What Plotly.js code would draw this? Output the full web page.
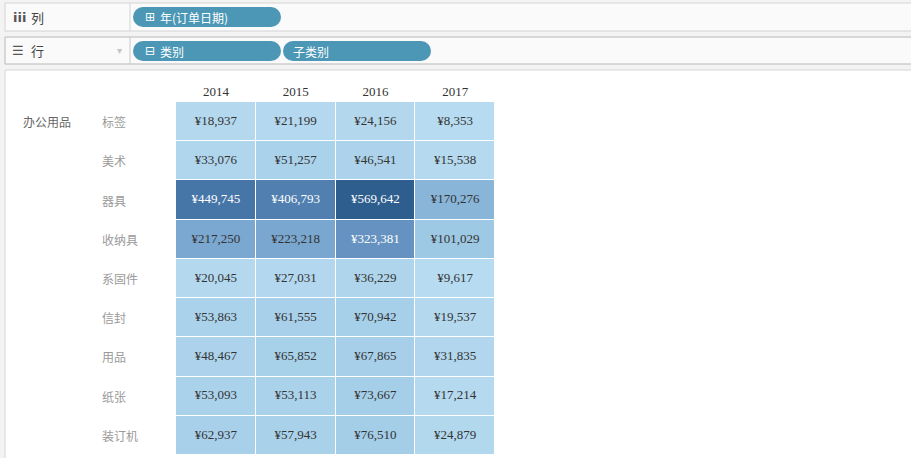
<!DOCTYPE html>
<html>
<head>
<meta charset="utf-8">
<script src="https://cdn.plot.ly/plotly-3.0.1.min.js"></script>
<style>html,body{margin:0;padding:0;background:#f3f3f3;}#chart{width:911px;height:458px;}</style>
</head>
<body>
<div id="chart"></div>
<script>
// ---- data ----
const years = ["2014", "2015", "2016", "2017"];
const category = "办公用品";
const subcats = ["标签", "美术", "器具", "收纳具", "系固件", "信封", "用品", "纸张", "装订机"];
const sales = [
  [18937, 21199, 24156, 8353],
  [33076, 51257, 46541, 15538],
  [449745, 406793, 569642, 170276],
  [217250, 223218, 323381, 101029],
  [20045, 27031, 36229, 9617],
  [53863, 61555, 70942, 19537],
  [48467, 65852, 67865, 31835],
  [53093, 53113, 73667, 17214],
  [62937, 57943, 76510, 24879]
];
const columnsShelf = "年(订单日期)";
const rowsShelf = ["类别", "子类别"];

// ---- geometry helpers (pixel -> paper) ----
const W = 911, H = 458;
const M = {l: 176, r: 416, t: 102, b: 3};
const PW = W - M.l - M.r, PH = H - M.t - M.b;
const px = x => (x - M.l) / PW;
const py = y => 1 - (y - M.t) / PH;

const shapes = [];
function rect(x0, y0, x1, y1, fill, line, lw) {
  shapes.push({type: 'rect', xref: 'paper', yref: 'paper', x0: px(x0), x1: px(x1), y0: py(y1), y1: py(y0),
    fillcolor: fill, line: {color: line || fill, width: lw === undefined ? 1 : lw}, layer: 'below'});
}
function vline(x, y0, y1, color) {
  shapes.push({type: 'line', xref: 'paper', yref: 'paper', x0: px(x), x1: px(x), y0: py(y1), y1: py(y0),
    line: {color: color, width: 1}, layer: 'below'});
}
function pill(x0, y0, x1, y1, color) {
  const r = (y1 - y0) / 2;
  rect(x0 + r, y0, x1 - r, y1, color, color, 0);
  shapes.push({type: 'circle', xref: 'paper', yref: 'paper', x0: px(x0), x1: px(x0 + 2 * r), y0: py(y1), y1: py(y0),
    fillcolor: color, line: {width: 0}, layer: 'below'});
  shapes.push({type: 'circle', xref: 'paper', yref: 'paper', x0: px(x1 - 2 * r), x1: px(x1), y0: py(y1), y1: py(y0),
    fillcolor: color, line: {width: 0}, layer: 'below'});
}

// shelves
rect(5, 3, 930, 31, '#fafafa', '#d4d4d4', 1);
vline(130, 3, 31, '#d4d4d4');
rect(5, 37, 930, 64, '#fafafa', '#b8b8b8', 1);
vline(130, 37, 64, '#c8c8c8');
// view area
rect(5, 70, 930, 480, '#ffffff', '#d6d6d6', 1);
// pills
const pillColor = '#4b97b5';
pill(133, 7, 281, 27, pillColor);
pill(133, 41, 281, 61, pillColor);
pill(283, 41, 431, 61, pillColor);

const sans = '"Noto Sans CJK SC", "Noto Sans", sans-serif';
const serif = '"Liberation Serif", "DejaVu Serif", serif';
const annotations = [];
function label(x, y, text, size, color, family) {
  annotations.push({xref: 'paper', yref: 'paper', x: px(x), y: py(y), xanchor: 'left', yanchor: 'middle',
    text: text, showarrow: false, font: {size: size, color: color, family: family || sans}});
}
label(11, 17, '<b>iii</b>', 13, '#555555', '"DejaVu Sans", sans-serif');
label(29, 17, '列', 13, '#444444');
label(10, 50, '☰', 13, '#555555', '"DejaVu Sans", sans-serif');
label(29, 50, '行', 13, '#444444');
label(115, 50, '▾', 10, '#c4c4c4', '"DejaVu Sans", sans-serif');
label(143, 17, '⊞', 12, '#ffffff', '"DejaVu Sans", sans-serif');
label(158, 17, columnsShelf, 12, '#ffffff');
label(143, 51, '⊟', 12, '#ffffff', '"DejaVu Sans", sans-serif');
label(158, 51, rowsShelf[0], 12, '#ffffff');
label(291, 51, rowsShelf[1], 12, '#ffffff');

// category & subcategory labels (y from data categories)
annotations.push({xref: 'paper', yref: 'y', x: px(21), y: subcats[0], xanchor: 'left', yanchor: 'middle',
  text: category, showarrow: false, font: {size: 12, color: '#666666', family: sans}});
subcats.forEach(s => {
  annotations.push({xref: 'paper', yref: 'y', x: px(100), y: s, xanchor: 'left', yanchor: 'middle',
    text: s, showarrow: false, font: {size: 12, color: '#9a9a9a', family: sans}});
});

// text trace
const tx = [], ty = [], tt = [], tc = [];
subcats.forEach((s, i) => years.forEach((y, j) => {
  const v = sales[i][j];
  tx.push(y); ty.push(s);
  tt.push('¥' + v.toLocaleString('en-US'));
  tc.push(v > 300000 ? '#ffffff' : '#333333');
}));

const data = [
  {type: 'heatmap', x: years, y: subcats, z: sales, xgap: 1, ygap: 1, showscale: false,
   colorscale: [[0, '#b7dbf0'], [0.17, '#9dc8e5'], [0.37, '#7ba8d0'], [0.56, '#6592c0'], [0.79, '#4575a8'], [1, '#2e5e8e']],
   hoverinfo: 'skip'},
  {type: 'scatter', mode: 'text', x: tx, y: ty, text: tt, textposition: 'middle center',
   textfont: {family: serif, size: 13, color: tc}, hoverinfo: 'skip', showlegend: false}
];

const layout = {
  width: W, height: H,
  margin: M,
  paper_bgcolor: '#f3f3f3',
  plot_bgcolor: '#ffffff',
  showlegend: false,
  xaxis: {type: 'category', side: 'top', showgrid: false, zeroline: false, showline: false, ticks: '',
    ticklabelstandoff: 2, tickfont: {family: serif, size: 13, color: '#333333'}, fixedrange: true},
  yaxis: {type: 'category', autorange: 'reversed', showgrid: false, zeroline: false, showline: false,
    showticklabels: false, ticks: '', fixedrange: true},
  shapes: shapes,
  annotations: annotations
};

Plotly.newPlot('chart', data, layout, {displayModeBar: false, staticPlot: true});
</script>
</body>
</html>
